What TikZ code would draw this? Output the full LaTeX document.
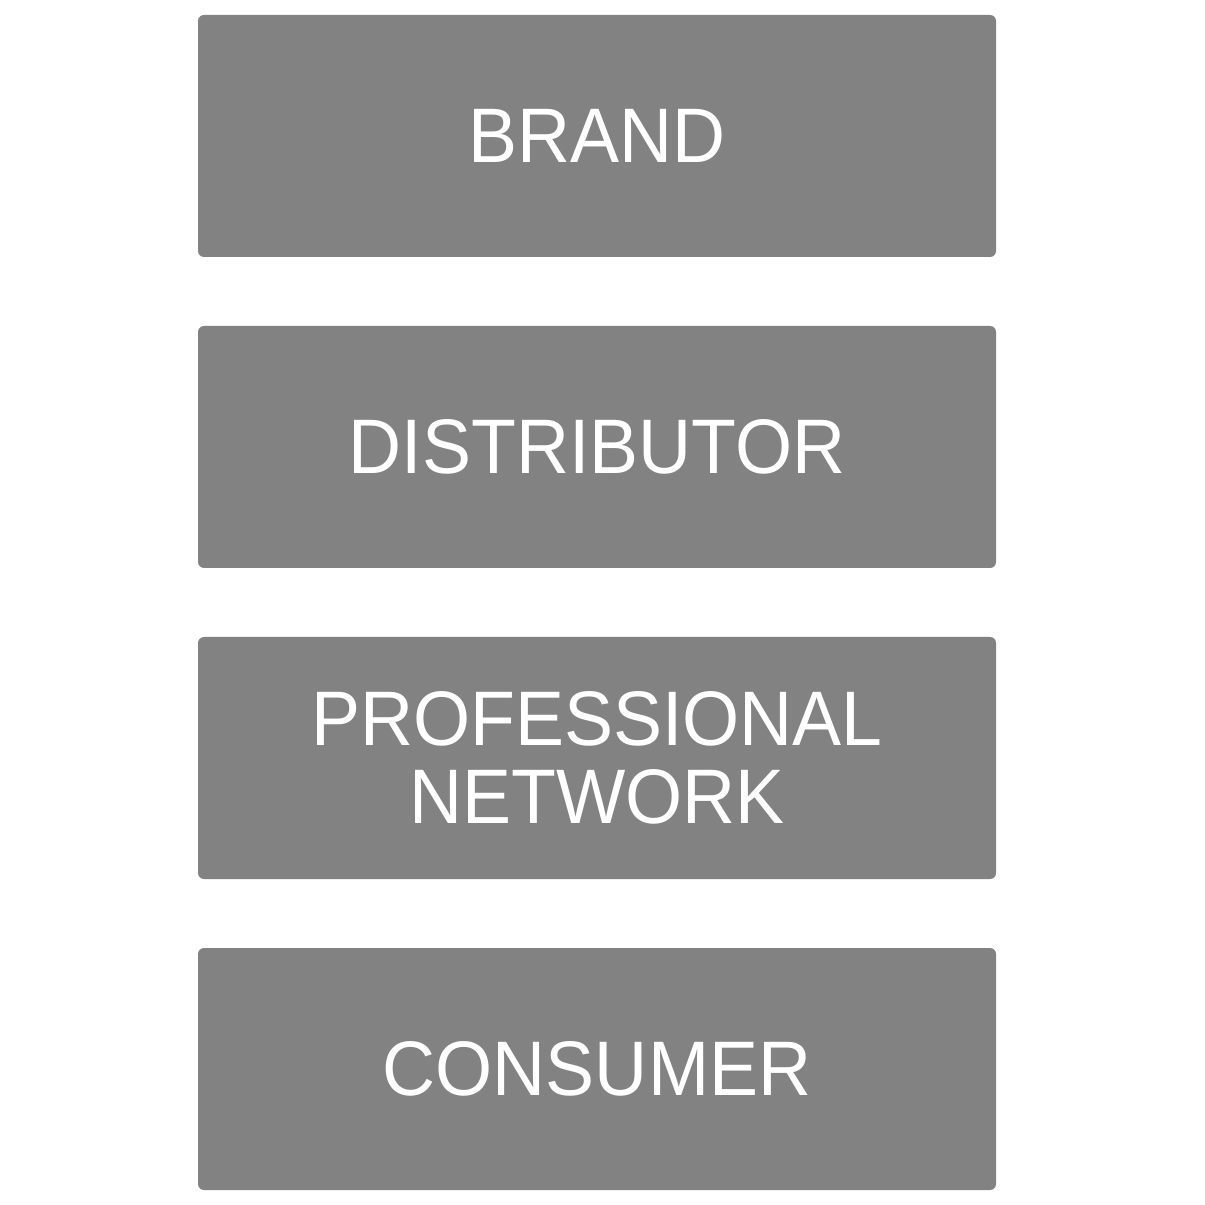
\documentclass[tikz,border=0pt]{standalone}
\usepackage{fontspec}
\setmainfont{Liberation Sans}[FakeStretch=0.95]
\usetikzlibrary{positioning}

\begin{document}
\begin{tikzpicture}[
  font=\fontsize{22}{22}\selectfont,
  tier/.style={fill=black!49,text=white,rounded corners=0.6mm,minimum width=7.98cm,minimum height=2.42cm,inner sep=0pt,outer sep=0pt,align=center}
]
\useasboundingbox (0,0) rectangle (12.05,-12.05);
% ---- chain, top to bottom ----
\node[tier] (brand) at (5.97,-1.36) {BRAND};
\node[tier,below=0.69cm of brand] (dist) {DISTRIBUTOR};
\node[tier,below=0.69cm of dist]  (pro)  {PROFESSIONAL\\NETWORK};
\node[tier,below=0.69cm of pro]   (cons) {CONSUMER};
\end{tikzpicture}
\end{document}
